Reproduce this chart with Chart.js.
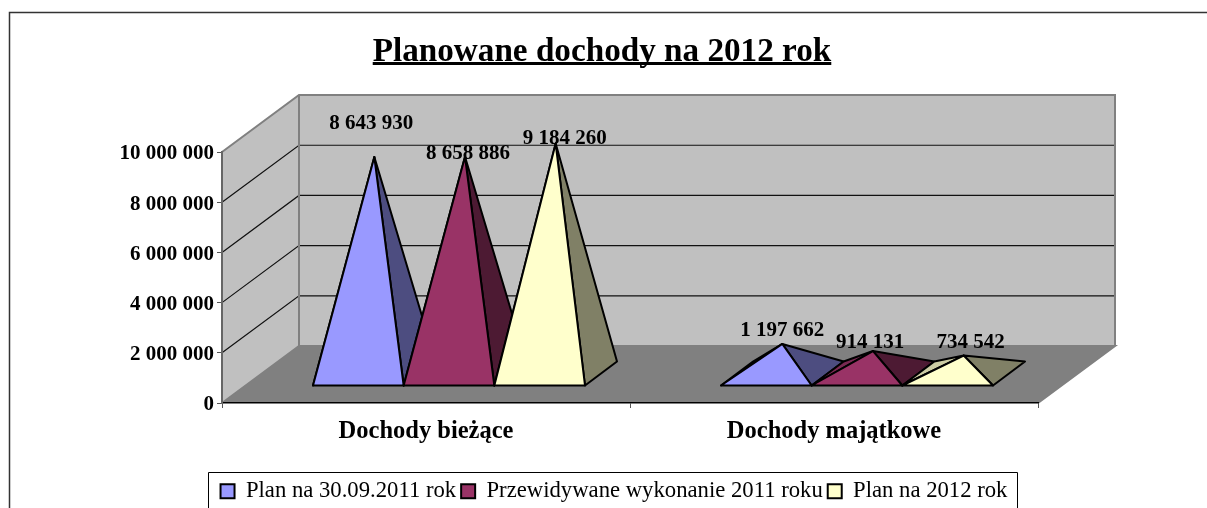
<!DOCTYPE html>
<html lang="pl">
<head>
<meta charset="utf-8">
<style>html,body{margin:0;padding:0;background:#fff;overflow:hidden}canvas{display:block}</style>
<script src="https://cdn.jsdelivr.net/npm/chart.js@4"></script>
</head>
<body>
<canvas id="c" width="1207" height="508" style="width:1207px;height:508px"></canvas>
<script>
const titleText = 'Planowane dochody na 2012 rok';
const categories = ['Dochody bieżące', 'Dochody majątkowe'];
const planSep2011 = [8643930, 1197662];
const expected2011 = [8658886, 914131];
const plan2012 = [9184260, 734542];
const seriesNames = ['Plan na 30.09.2011 rok', 'Przewidywane wykonanie 2011 roku', 'Plan na 2012 rok'];

const SERIF = '"Liberation Serif","Times New Roman",serif';
const fmt = v => String(v).replace(/\B(?=(\d{3})+(?!\d))/g, ' ');
const faces = [
  {front:'#9999FF', right:'#4D4D80', left:'#7A7ACC'},
  {front:'#993366', right:'#4D1A33', left:'#7A2952'},
  {front:'#FFFFCC', right:'#808066', left:'#CCCCA3'}
];
// depth of the 3D box, of the pyramid base and how far the base sits from the front edge
const BOX = {dx:77, dy:-57}, BASE = {dx:32, dy:-24}, INSET = {dx:23, dy:-17};
// label offset from each apex [series][category]
const nudge = [[[-3,-33],[0,-13]],[[3,-3],[-3,-8]],[[9,-5],[7,-13]]];

function poly(ctx, pts, fill, stroke, lw) {
  ctx.beginPath();
  pts.forEach((p,i) => i ? ctx.lineTo(p[0],p[1]) : ctx.moveTo(p[0],p[1]));
  ctx.closePath();
  if (fill) { ctx.fillStyle = fill; ctx.fill(); }
  if (stroke) { ctx.strokeStyle = stroke; ctx.lineWidth = lw; ctx.stroke(); }
}

const scene = {
  id:'scene',
  afterLayout(chart) {
    chart.titleBlock.left = 0; chart.titleBlock.right = 1204;
    const l = chart.legend; l.left = 209; l.right = 1019; l.top = 475;
  },
  beforeDraw(chart) {
    const {ctx, chartArea:a, scales:{y}} = chart;
    ctx.save();
    // page frame
    ctx.strokeStyle = '#333'; ctx.lineWidth = 1.5;
    ctx.beginPath(); ctx.moveTo(9.5,520); ctx.lineTo(9.5,12.5); ctx.lineTo(1210,12.5); ctx.stroke();
    const B = BOX;
    poly(ctx, [[a.left,a.top],[a.left+B.dx,a.top+B.dy],[a.left+B.dx,a.bottom+B.dy],[a.left,a.bottom]], '#C0C0C0');
    poly(ctx, [[a.left+B.dx,a.top+B.dy],[a.right+B.dx,a.top+B.dy],[a.right+B.dx,a.bottom+B.dy],[a.left+B.dx,a.bottom+B.dy]], '#C0C0C0');
    poly(ctx, [[a.left,a.bottom],[a.right,a.bottom],[a.right+B.dx,a.bottom+B.dy],[a.left+B.dx,a.bottom+B.dy]], '#808080');
    // gridlines on both walls
    y.ticks.forEach(t => {
      if (t.value === 0 || t.value === y.max) return;
      const py = y.getPixelForValue(t.value);
      ctx.strokeStyle = '#111'; ctx.lineWidth = 1.2;
      ctx.beginPath(); ctx.moveTo(a.left,py); ctx.lineTo(a.left+B.dx,py+B.dy); ctx.lineTo(a.right+B.dx,py+B.dy); ctx.stroke();
    });
    // wall edges
    ctx.strokeStyle = '#808080'; ctx.lineWidth = 2;
    ctx.beginPath();
    ctx.moveTo(a.left,a.top); ctx.lineTo(a.left+B.dx,a.top+B.dy); ctx.lineTo(a.right+B.dx,a.top+B.dy); ctx.lineTo(a.right+B.dx,a.bottom+B.dy);
    ctx.moveTo(a.left+B.dx,a.top+B.dy); ctx.lineTo(a.left+B.dx,a.bottom+B.dy);
    ctx.moveTo(a.left,a.bottom); ctx.lineTo(a.left+B.dx,a.bottom+B.dy); ctx.lineTo(a.right+B.dx,a.bottom+B.dy); ctx.lineTo(a.right,a.bottom);
    ctx.stroke();
    ctx.restore();
  },
  beforeDatasetsDraw(chart) {
    const {ctx} = chart;
    ctx.save();
    ctx.lineJoin = 'round';
    const labels = [];
    chart.data.labels.forEach((_, j) => {
      chart.data.datasets.forEach((ds, i) => {
        const el = chart.getDatasetMeta(i).data[j];
        const f = faces[i];
        const xl = el.x - el.width/2 + INSET.dx, xr = el.x + el.width/2 + INSET.dx, yb = el.base + INSET.dy;
        const ax = (xl+xr)/2 + BASE.dx/2, ay = el.y + INSET.dy + BASE.dy/2;
        const apex = [ax,ay], fl = [xl,yb], fr = [xr,yb];
        const bl = [xl+BASE.dx,yb+BASE.dy], br = [xr+BASE.dx,yb+BASE.dy];
        poly(ctx,[fl,bl,apex],f.left,'#000',2);
        poly(ctx,[fr,br,apex],f.right,'#000',2);
        poly(ctx,[fl,fr,apex],f.front,'#000',2);
        labels.push([fmt(ds.data[j]), ax+nudge[i][j][0], ay+nudge[i][j][1]]);
      });
    });
    ctx.fillStyle = '#000';
    ctx.font = 'bold 21px '+SERIF;
    ctx.textAlign = 'center'; ctx.textBaseline = 'middle';
    labels.forEach(l => ctx.fillText(l[0], l[1], l[2]));
    ctx.restore();
    return false;
  },
  afterDraw(chart) {
    const {ctx} = chart;
    ctx.save();
    // legend box (open at the cropped bottom)
    ctx.strokeStyle = '#000'; ctx.lineWidth = 1;
    ctx.beginPath(); ctx.moveTo(208.5,520); ctx.lineTo(208.5,472.5); ctx.lineTo(1017.5,472.5); ctx.lineTo(1017.5,520); ctx.stroke();
    // title underline
    const o = chart.options.plugins.title;
    ctx.font = 'bold '+o.font.size+'px '+SERIF;
    const w = ctx.measureText(titleText).width;
    ctx.fillStyle = '#000';
    ctx.fillRect(602-w/2, 62, w, 3);
    ctx.restore();
  }
};

new Chart(document.getElementById('c'), {
  type:'bar',
  data:{
    labels:categories,
    datasets:[
      {label:seriesNames[0], data:planSep2011, backgroundColor:faces[0].front, borderColor:'#000', borderWidth:2},
      {label:seriesNames[1], data:expected2011, backgroundColor:faces[1].front, borderColor:'#000', borderWidth:2},
      {label:seriesNames[2], data:plan2012, backgroundColor:faces[2].front, borderColor:'#000', borderWidth:2}
    ]
  },
  plugins:[scene],
  options:{
    responsive:false, animation:false,
    layout:{padding:{left:0,right:169,top:0,bottom:0}},
    categoryPercentage:0.6667, barPercentage:1,
    plugins:{
      tooltip:{enabled:false},
      title:{display:true,text:titleText,color:'#000',font:{family:SERIF,size:33.2,weight:'bold',lineHeight:1.2},padding:{top:33,bottom:79.2}},
      legend:{position:'bottom',labels:{color:'#000',font:{family:SERIF,size:22.7},boxWidth:14,boxHeight:14,padding:5}}
    },
    scales:{
      x:{
        grid:{display:true,offset:true,drawOnChartArea:false,drawTicks:true,tickLength:5,color:'#555'},
        border:{display:true,color:'#000',width:1.5},
        ticks:{color:'#000',font:{family:SERIF,size:24.5,weight:'bold'},padding:9,maxRotation:0,autoSkip:false},
        afterFit:s=>{ s.height = 105 - s.chart.legend.height; }
      },
      y:{
        min:0,max:10000000,
        grid:{display:true,drawOnChartArea:false,drawTicks:true,tickLength:5,color:'#555'},
        border:{display:true,color:'#666',width:2},
        ticks:{stepSize:2000000,color:'#000',font:{family:SERIF,size:21,weight:'bold'},padding:3,labelOffset:2,callback:v=>fmt(v)},
        afterFit:s=>{ s.width = 222; }
      }
    }
  }
});
</script>
</body>
</html>
